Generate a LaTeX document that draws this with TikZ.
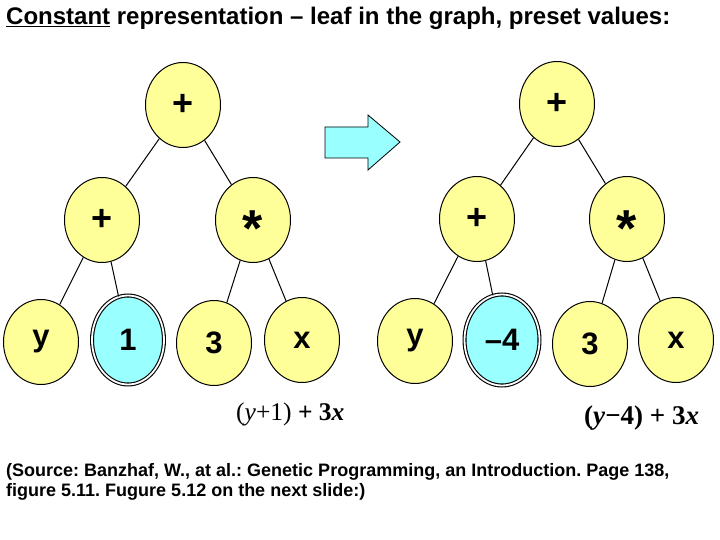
\documentclass[tikz,border=0pt]{standalone}
\usepackage{fontspec}
\setmainfont{Liberation Sans}
\newfontfamily\tnr{Liberation Serif}
\usetikzlibrary{shapes.geometric}
\definecolor{nodeyellow}{HTML}{FFFF99}
\definecolor{nodecyan}{HTML}{99FFFF}
\newcommand{\astx}{\raisebox{-27pt}[0pt][0pt]{\fontsize{52}{52}\selectfont *}}
\frenchspacing
\begin{document}
\begin{tikzpicture}[x=1pt,y=-1pt,
  treenode/.style={ellipse, draw=black, line width=1pt, fill=nodeyellow,
    minimum width=75pt, minimum height=85pt, inner sep=0pt,
    font=\bfseries\fontsize{31}{31}\selectfont},
  opnode/.style={treenode, font=\bfseries\fontsize{36}{36}\selectfont},
  constnode/.style={treenode, fill=nodecyan, double=white, double distance=1.8pt,
    line width=1.1pt, minimum width=72pt, minimum height=89pt},
  edge/.style={draw=black, line width=1pt},
  txt/.style={anchor=base west, inner sep=0pt},
]
\useasboundingbox (0,0) rectangle (720,540);

% title
\node[txt, font=\bfseries\fontsize{24}{24}\selectfont] (title) at (6,25)
  {\underline{Constant} representation – leaf in the graph, preset values:};

% left tree
\node[opnode] (Lr) at (183,105) {+};
\node[opnode] (Lp) at (102,220) {+};
\node[opnode] (Lm) at (253,220) {\astx};
\node[treenode] (Ly) at (41,342) {y};
\node[constnode] (Lc) at (128,340) {1};
\node[treenode] (L3) at (214,343) {3};
\node[treenode] (Lx) at (302,340) {x};
\draw[edge] (Lr) -- (Lp);
\draw[edge] (Lr) -- (Lm);
\draw[edge] (Lp) -- (Ly);
\draw[edge] (Lp) -- (Lc);
\draw[edge] (Lm) -- (L3);
\draw[edge] (Lm) -- (Lx);

% arrow
\draw[fill=nodecyan, line width=0.8pt] (325,127) -- (368,127) -- (368,115) -- (400,142)
  -- (368,170) -- (368,158) -- (325,158) -- cycle;

% right tree
\node[opnode] (Rr) at (557,104) {+};
\node[opnode] (Rp) at (477,219) {+};
\node[opnode] (Rm) at (627,219) {\astx};
\node[treenode] (Ry) at (415,341) {y};
\node[constnode, minimum width=75pt, minimum height=91pt] (Rc) at (502,340) {–4};
\node[treenode] (R3) at (590,344) {3};
\node[treenode] (Rx) at (676,340) {x};
\draw[edge] (Rr) -- (Rp);
\draw[edge] (Rr) -- (Rm);
\draw[edge] (Rp) -- (Ry);
\draw[edge] (Rp) -- (Rc);
\draw[edge] (Rm) -- (R3);
\draw[edge] (Rm) -- (Rx);

% formulas
\node[txt, font=\tnr\fontsize{25.5}{25.5}\selectfont] (f1) at (236,420)
  {(\textit{y}+1) \textbf{+ 3\textit{x}}};
\node[txt, font=\tnr\bfseries\fontsize{27}{27}\selectfont] (f2) at (584,424)
  {(\textit{y}−4) + 3\textit{x}};

% source
\node[txt, font=\bfseries\fontsize{18}{18}\selectfont] (src1) at (6,476)
  {(Source: Banzhaf, W., at al.: Genetic Programming, an Introduction. Page 138,};
\node[txt, font=\bfseries\fontsize{18}{18}\selectfont] (src2) at (6,496)
  {figure 5.11. Fugure 5.12 on the next slide:)};
\end{tikzpicture}
\end{document}
